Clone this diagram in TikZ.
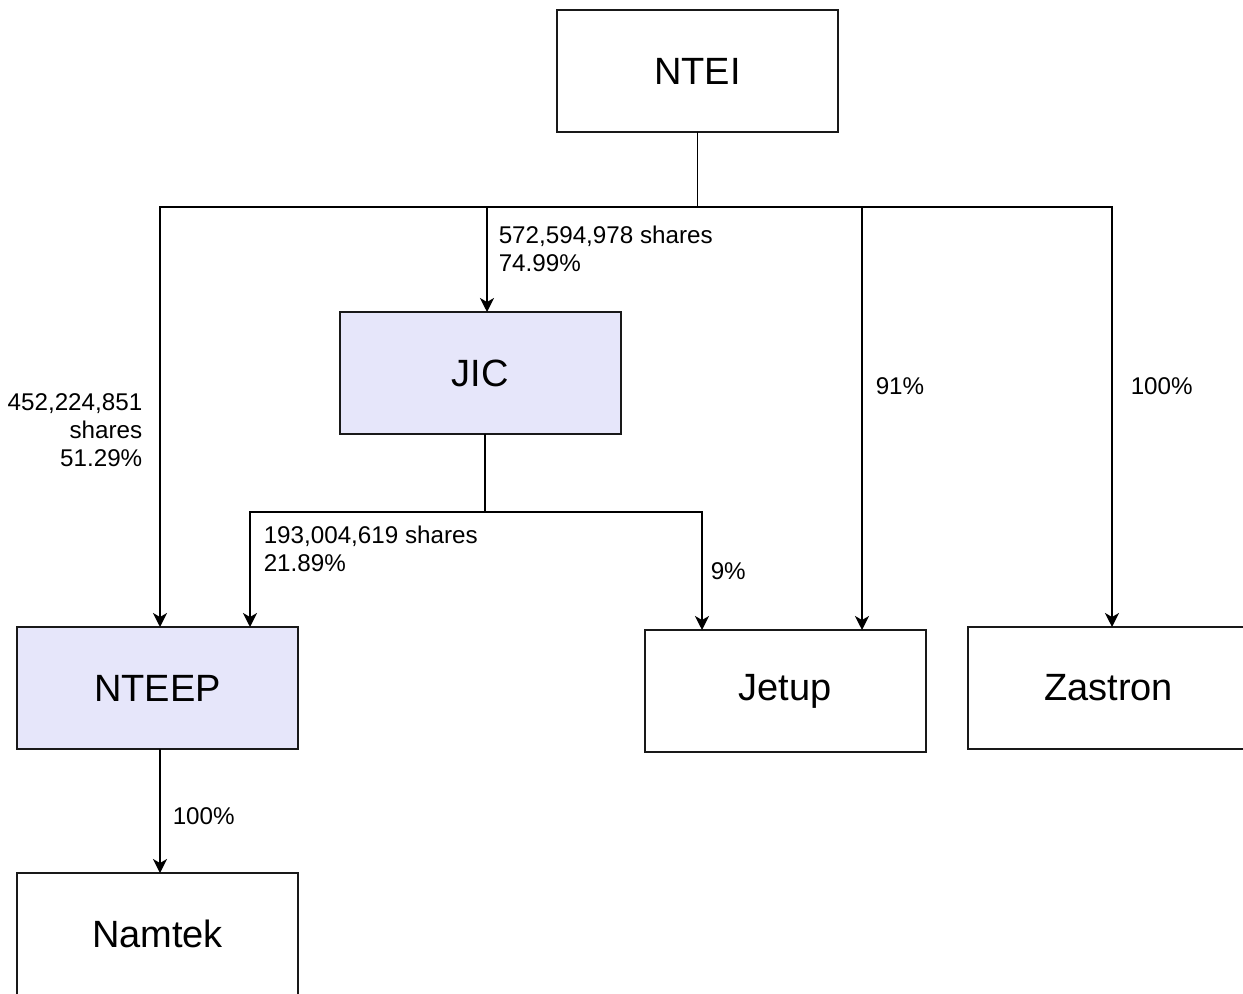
\documentclass[tikz,border=0pt]{standalone}
\usepackage{fontspec}
\setmainfont{Liberation Sans}
\usetikzlibrary{calc,positioning,arrows.meta}
\definecolor{boxlavender}{RGB}{230,230,250}
\begin{document}
\begin{tikzpicture}[
  x=0.5pt, y=-0.5pt,
  line width=0.75pt,
  >={Stealth[length=7pt,width=7pt,inset=2pt]},
  company/.style={
    rectangle,
    fill=white,
    line width=1pt,
    draw=black!90,
    minimum height=61pt, minimum width=140.5pt,
    inner sep=0pt,
    outer sep=0pt,
    font=\fontsize{19}{22}\selectfont
  },
  holding/.style={
    company,
    fill=boxlavender
  },
  share label/.style={
    inner sep=0pt,
    align=left,
    anchor=west,
    font=\fontsize{12.1}{14}\selectfont
  }
  ]
\useasboundingbox (0,0) rectangle (1243,994);
% Companies
\node [company] (ntei) at (697.5,71) {NTEI};
\node [holding] (jic) at (480,373) {JIC};
\node [holding] (nteep) at (157.5,688) {NTEEP};
\node [company] (jetup) at (785,691) {Jetup};
\node [company] (zastron) at (1108.5,688) {Zastron};
\node [company] (namtek) at (157.5,934) {Namtek};
% NTEI holdings
\coordinate (ntei bus) at (ntei.south |- 0,207);
\draw (ntei.south) -- (ntei bus);
\draw[->] (ntei bus) -| ($(nteep.north)+(2.5,0)$);
\draw[->] (ntei bus) -| ($(jic.north)+(7,0)$);
\draw[->] (ntei bus) -| ($(jetup.north)+(77,0)$);
\draw[->] (ntei bus) -| ($(zastron.north)+(3.5,0)$);
\node [share label] (ntei jic) at (498,249) {572,594,978 shares\\74.99\%};
\node [share label, anchor=east, align=right] (ntei nteep) at (143,430) {452,224,851\\shares\\51.29\%};
\node [share label] (ntei jetup) at (875,386) {91\%};
\node [share label] (ntei zastron) at (1130,386) {100\%};
% JIC holdings
\coordinate (jic out) at ($(jic.south)+(5,0)$);
\coordinate (jic bus) at (jic out |- 0,512);
\draw (jic out) -- (jic bus);
\draw[->] (jic bus) -| ($(nteep.north)+(92.5,0)$);
\draw[->] (jic bus) -| ($(jetup.north)+(-83,0)$);
\node [share label] (jic nteep) at (263,549) {193,004,619 shares\\21.89\%};
\node [share label] (jic jetup) at (710,571) {9\%};
% NTEEP holdings
\draw[->] ($(nteep.south)+(2.5,0)$) -- ($(namtek.north)+(2.5,0)$);
\node [share label] (nteep namtek) at (172,816) {100\%};
\end{tikzpicture}
\end{document}
